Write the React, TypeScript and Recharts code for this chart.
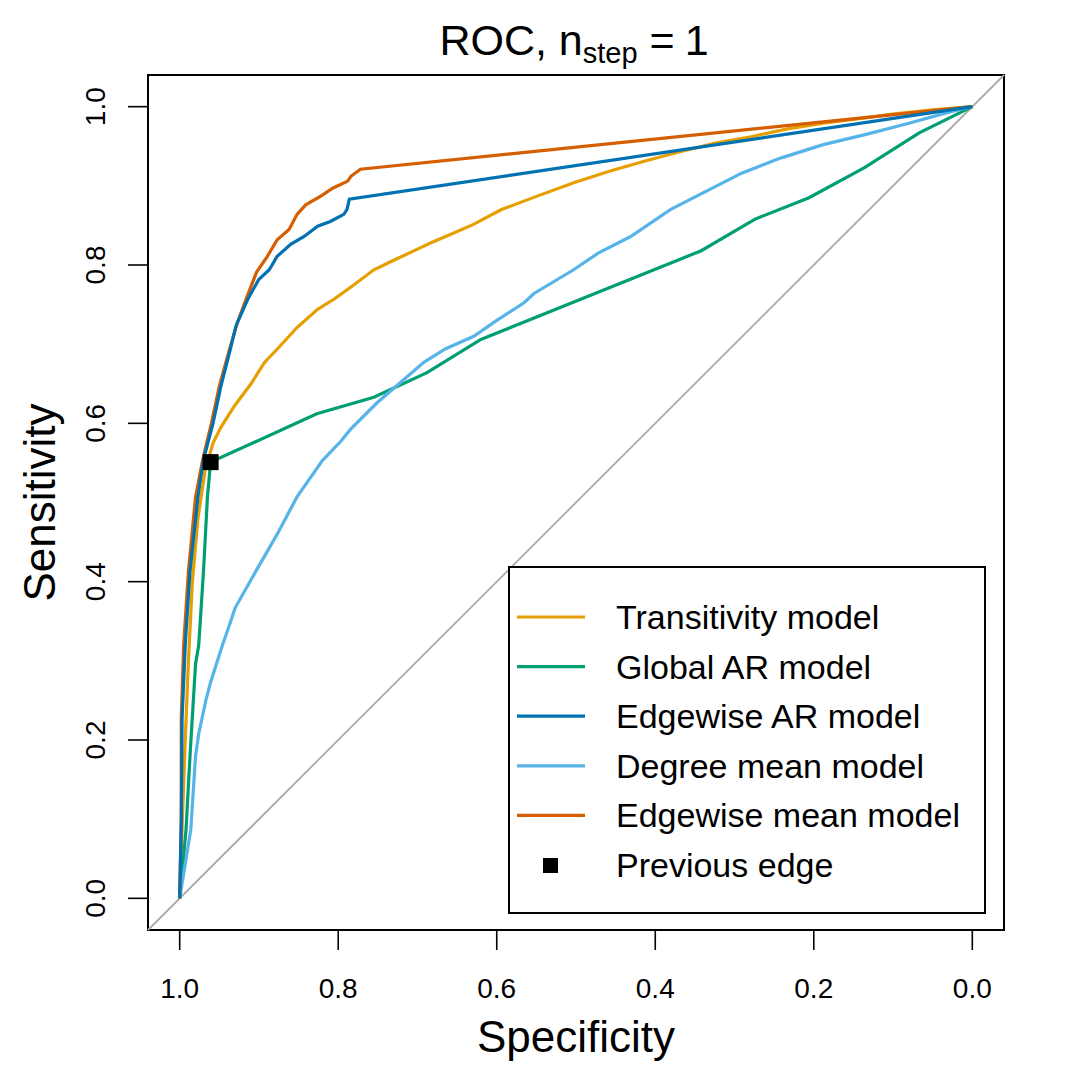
import React from "react";
import {
  ComposedChart,
  Line,
  Scatter,
  XAxis,
  YAxis,
  ReferenceArea,
  ReferenceLine,
} from "recharts";

// ROC curves: specificity (x) and sensitivity (y)
const transitivitySpec = [1, 0.997, 0.993, 0.989, 0.984, 0.977, 0.968, 0.958, 0.948, 0.931, 0.91, 0.893, 0.873, 0.852, 0.826, 0.805, 0.78, 0.755, 0.73, 0.7, 0.683, 0.66, 0.63, 0.594, 0.549, 0.503, 0.459, 0.414, 0.369, 0.324, 0.279, 0.233, 0.188, 0.143, 0.098, 0.05, 0];
const transitivitySens = [0, 0.09, 0.2, 0.3, 0.4, 0.48, 0.54, 0.575, 0.595, 0.622, 0.65, 0.677, 0.698, 0.721, 0.744, 0.757, 0.775, 0.794, 0.806, 0.82, 0.828, 0.838, 0.851, 0.87, 0.887, 0.904, 0.918, 0.931, 0.943, 0.954, 0.962, 0.972, 0.979, 0.985, 0.991, 0.996, 1];

const globalArSpec = [1, 0.992, 0.987, 0.98, 0.976, 0.97, 0.965, 0.961, 0.827, 0.755, 0.688, 0.62, 0.342, 0.274, 0.206, 0.136, 0.067, 0];
const globalArSens = [0, 0.087, 0.18, 0.296, 0.32, 0.413, 0.507, 0.551, 0.612, 0.633, 0.664, 0.706, 0.818, 0.858, 0.885, 0.923, 0.967, 1];

const edgeArSpec = [1, 0.998, 0.997, 0.993, 0.987, 0.977, 0.97, 0.958, 0.948, 0.936, 0.929, 0.914, 0.9, 0.887, 0.877, 0.86, 0.843, 0.826, 0.81, 0.793, 0.789, 0.786, 0];
const edgeArSens = [0, 0.1, 0.227, 0.32, 0.413, 0.507, 0.554, 0.6, 0.647, 0.694, 0.723, 0.757, 0.782, 0.794, 0.811, 0.826, 0.836, 0.849, 0.855, 0.864, 0.87, 0.883, 1];

const degreeSpec = [1, 0.986, 0.98, 0.976, 0.967, 0.961, 0.946, 0.938, 0.93, 0.904, 0.877, 0.852, 0.82, 0.797, 0.784, 0.751, 0.692, 0.665, 0.629, 0.6, 0.566, 0.553, 0.503, 0.472, 0.431, 0.381, 0.336, 0.291, 0.242, 0.188, 0.134, 0.08, 0.026, 0];
const degreeSens = [0, 0.087, 0.18, 0.208, 0.25, 0.273, 0.32, 0.343, 0.367, 0.413, 0.46, 0.507, 0.553, 0.577, 0.593, 0.626, 0.677, 0.694, 0.71, 0.73, 0.752, 0.764, 0.794, 0.815, 0.836, 0.87, 0.893, 0.916, 0.935, 0.952, 0.965, 0.979, 0.994, 1];

const edgeMeanSpec = [1, 0.998, 0.998, 0.995, 0.989, 0.98, 0.971, 0.96, 0.95, 0.937, 0.927, 0.915, 0.903, 0.89, 0.877, 0.862, 0.852, 0.841, 0.822, 0.807, 0.788, 0.784, 0.772, 0];
const edgeMeanSens = [0, 0.1, 0.227, 0.32, 0.413, 0.507, 0.554, 0.6, 0.647, 0.694, 0.728, 0.76, 0.791, 0.81, 0.832, 0.845, 0.864, 0.876, 0.887, 0.897, 0.906, 0.912, 0.921, 1];

const previousEdgeSpec = [0.961];
const previousEdgeSens = [0.551];

const axisTicks = [0, 0.2, 0.4, 0.6, 0.8, 1];

const zip = (xs: number[], ys: number[]) => xs.map((x, i) => ({ x, y: ys[i] }));

const series = [
  { name: "Transitivity model", color: "#E69F00", data: zip(transitivitySpec, transitivitySens) },
  { name: "Global AR model", color: "#009E73", data: zip(globalArSpec, globalArSens) },
  { name: "Edgewise AR model", color: "#0072B2", data: zip(edgeArSpec, edgeArSens) },
  { name: "Degree mean model", color: "#56B4E9", data: zip(degreeSpec, degreeSens) },
  { name: "Edgewise mean model", color: "#D55E00", data: zip(edgeMeanSpec, edgeMeanSens) },
];
// drawing order (edgewise AR sits on top)
const drawOrder = [0, 1, 3, 4, 2];

const FONT = "'Liberation Sans', Arial, Helvetica, sans-serif";

const YTick = (props: any) => {
  const { x, y, payload } = props;
  return (
    <text
      x={x}
      y={y}
      transform={`rotate(-90, ${x}, ${y})`}
      textAnchor="middle"
      fontSize={28}
      fontFamily={FONT}
      fill="#000"
    >
      {payload.value.toFixed(1)}
    </text>
  );
};

const XLabel = (props: any) => {
  const vb = props.viewBox;
  return (
    <text x={vb.x + vb.width / 2} y={1052} textAnchor="middle" fontSize={44} fontFamily={FONT} fill="#000">
      Specificity
    </text>
  );
};

const YLabel = (props: any) => {
  const vb = props.viewBox;
  const cy = vb.y + vb.height / 2;
  return (
    <text x={55} y={cy} transform={`rotate(-90, 55, ${cy})`} textAnchor="middle" fontSize={44} fontFamily={FONT} fill="#000">
      Sensitivity
    </text>
  );
};

const SquareShape = (props: any) => {
  const { cx, cy } = props;
  return <rect x={cx - 8} y={cy - 8} width={16} height={16} fill="#000" />;
};

const legendRows = [...series.map((s) => ({ name: s.name, color: s.color, square: false })), { name: "Previous edge", color: "#000", square: true }];

export default function App() {
  return (
    <div style={{ position: "absolute", left: 0, top: 0, width: 1080, height: 1080, background: "#fff" }}>
      <ComposedChart width={1080} height={1080} margin={{ top: 75, right: 76, left: 0, bottom: 0 }}>
        <XAxis
          type="number"
          dataKey="x"
          domain={[-0.04, 1.04]}
          reversed
          ticks={axisTicks}
          allowDataOverflow
          height={150}
          axisLine={false}
          tickSize={20}
          tickMargin={28}
          tickLine={{ stroke: "#000", strokeWidth: 1.6 }}
          tick={{ fill: "#000", fontSize: 28, fontFamily: FONT }}
          tickFormatter={(v: number) => v.toFixed(1)}
          label={<XLabel />}
        />
        <YAxis
          type="number"
          dataKey="y"
          domain={[-0.04, 1.04]}
          ticks={axisTicks}
          allowDataOverflow
          width={148}
          axisLine={false}
          tickSize={20}
          tickMargin={23}
          tickLine={{ stroke: "#000", strokeWidth: 1.6 }}
          tick={<YTick />}
          label={<YLabel />}
        />
        <ReferenceLine
          segment={[
            { x: 1.04, y: -0.04 },
            { x: -0.04, y: 1.04 },
          ]}
          stroke="#AAAAAA"
          strokeWidth={1.8}
        />
        {drawOrder.map((i) => (
          <Line
            key={series[i].name}
            data={series[i].data}
            dataKey="y"
            type="linear"
            stroke={series[i].color}
            strokeWidth={3.2}
            dot={false}
            activeDot={false}
            isAnimationActive={false}
          />
        ))}
        <Scatter
          data={zip(previousEdgeSpec, previousEdgeSens)}
          dataKey="y"
          fill="#000"
          shape={<SquareShape />}
          isAnimationActive={false}
        />
        <ReferenceArea x1={-0.04} x2={1.04} y1={-0.04} y2={1.04} fill="none" stroke="#000" strokeWidth={2} />
      </ComposedChart>

      {/* title and legend */}
      <svg width={1080} height={1080} style={{ position: "absolute", left: 0, top: 0, pointerEvents: "none" }}>
        <text x={574} y={55} textAnchor="middle" fontSize={43} fontFamily={FONT} fill="#000">
          ROC, n
          <tspan fontSize={29} dy={8}>step</tspan>
          <tspan dy={-8} dx={12} fontSize={43}>=</tspan>
          <tspan dx={10}>1</tspan>
        </text>

        <rect x={509} y={567} width={476} height={346} fill="#fff" stroke="#000" strokeWidth={2} />
        {legendRows.map((r, i) => {
          const cy = 617 + i * 49.6;
          return (
            <g key={r.name}>
              {r.square ? (
                <rect x={543} y={cy - 7} width={15} height={15} fill="#000" />
              ) : (
                <line x1={517} x2={585} y1={cy} y2={cy} stroke={r.color} strokeWidth={3.2} />
              )}
              <text x={616} y={cy + 12} fontSize={34} fontFamily={FONT} fill="#000">
                {r.name}
              </text>
            </g>
          );
        })}
      </svg>
    </div>
  );
}
